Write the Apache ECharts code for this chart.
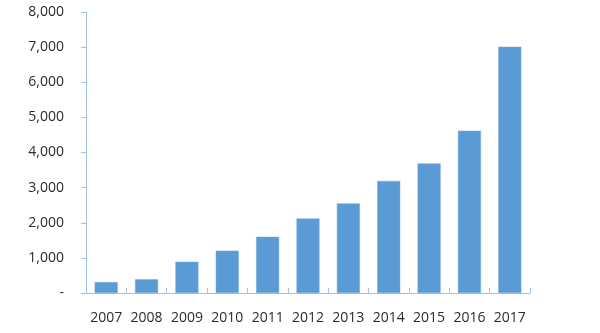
<!DOCTYPE html>
<html>
<head>
<meta charset="utf-8">
<script src="https://cdn.jsdelivr.net/npm/echarts@6/dist/echarts.min.js"></script>
<style>
  html, body { margin: 0; padding: 0; background: #fff; }
  #chart { width: 600px; height: 333px; }
</style>
</head>
<body>
<div id="chart"></div>
<script>
// Yearly totals, 2007–2017
const years = ['2007', '2008', '2009', '2010', '2011', '2012', '2013', '2014', '2015', '2016', '2017'];
const values = [310, 390, 890, 1205, 1600, 2120, 2550, 3190, 3690, 4620, 7010];
const yTicks = { min: 0, max: 8000, step: 1000 };

const axisColor = '#9DC3E6';
const textColor = '#2b2b2b';
const font = '"Open Sans", "Liberation Sans", sans-serif';

const chart = echarts.init(document.getElementById('chart'), null, { renderer: 'canvas' });
chart.setOption({
  animation: false,
  grid: { left: 86, right: 70, top: 12, bottom: 40 },
  xAxis: {
    type: 'category',
    data: years,
    axisLine: { lineStyle: { color: axisColor, width: 1 } },
    axisTick: { show: true, inside: true, length: 5, alignWithLabel: false, lineStyle: { color: axisColor } },
    axisLabel: { color: textColor, fontSize: 14, fontFamily: font, margin: 18, interval: 0 }
  },
  yAxis: {
    type: 'value',
    min: yTicks.min,
    max: yTicks.max,
    interval: yTicks.step,
    axisLine: { show: true, lineStyle: { color: axisColor, width: 1 } },
    axisTick: { show: true, length: 5, lineStyle: { color: axisColor } },
    splitLine: { show: false },
    axisLabel: {
      color: textColor, fontSize: 14, fontFamily: font, margin: 22,
      formatter: v => v === 0 ? '-' : v.toLocaleString('en-US')
    }
  },
  series: [{
    type: 'bar',
    data: values,
    barWidth: '57%',
    itemStyle: { color: '#5B9BD5', borderColor: '#6FA8DC', borderWidth: 0.5 }
  }]
});
</script>
</body>
</html>
